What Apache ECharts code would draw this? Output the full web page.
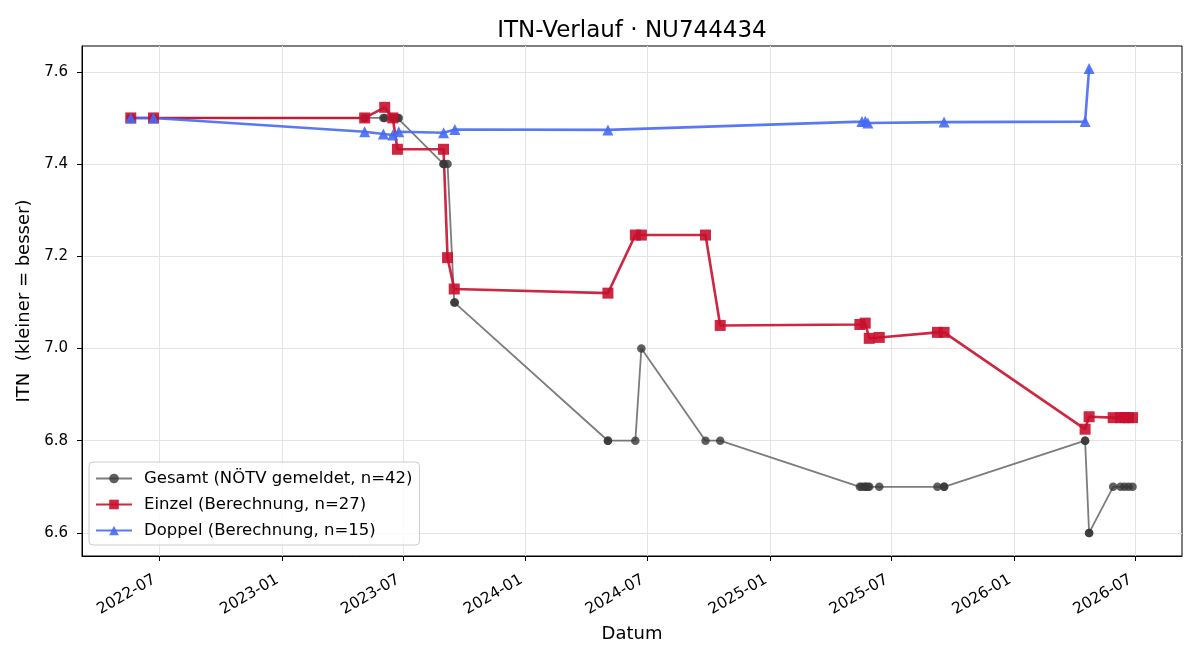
<!DOCTYPE html>
<html>
<head>
    <meta charset="utf-8">
    <title>ITN-Verlauf</title>
    <script src="https://cdn.jsdelivr.net/npm/echarts@6/dist/echarts.min.js"></script>
    <style type="text/css">
        body{ margin:0; background:#fff; }
        #main{ width:1200px; height:660px; }
    </style>
</head>
<body>
<div id="main"></div>
<script>
    // Einzel (Berechnung)
    var einzelDates = ['2022-05-20','2022-06-23','2023-05-05','2023-06-04','2023-06-16','2023-06-23','2023-08-31','2023-09-06','2023-09-16',
        '2024-05-03','2024-06-13','2024-06-22','2024-09-26','2024-10-18','2025-05-15','2025-05-23','2025-05-29','2025-06-13',
        '2025-09-08','2025-09-18','2026-04-17','2026-04-23','2026-05-29','2026-06-09','2026-06-15','2026-06-21','2026-06-27'];
    var einzelValues = [7.50, 7.50, 7.50, 7.523, 7.50, 7.432, 7.432, 7.197, 7.129,
        7.120, 7.246, 7.246, 7.246, 7.050, 7.052, 7.055, 7.022, 7.024,
        7.035, 7.035, 6.825, 6.852, 6.850, 6.850, 6.850, 6.850, 6.850];

    // Doppel (Berechnung)
    var doppelDates = ['2022-05-20','2022-06-23','2023-05-05','2023-06-02','2023-06-16','2023-06-25','2023-08-31','2023-09-17',
        '2024-05-03','2025-05-18','2025-05-23','2025-05-27','2025-09-18','2026-04-17','2026-04-23'];
    var doppelValues = [7.50, 7.50, 7.470, 7.465, 7.463, 7.470, 7.468, 7.475,
        7.474, 7.492, 7.493, 7.489, 7.491, 7.492, 7.607];

    // Gesamt (NÖTV gemeldet)
    var gesamtDates = ['2022-05-20','2022-05-20','2022-06-23','2022-06-23','2023-05-05','2023-05-05','2023-06-02','2023-06-04',
        '2023-06-16','2023-06-16','2023-06-23','2023-06-25','2023-08-31','2023-08-31','2023-09-06','2023-09-16','2023-09-17',
        '2024-05-03','2024-05-03','2024-06-13','2024-06-22','2024-09-26','2024-10-18',
        '2025-05-15','2025-05-18','2025-05-23','2025-05-23','2025-05-27','2025-05-29','2025-06-13','2025-09-08','2025-09-18','2025-09-18',
        '2026-04-17','2026-04-17','2026-04-23','2026-04-23','2026-05-29','2026-06-09','2026-06-15','2026-06-21','2026-06-27'];
    var gesamtValues = [7.5, 7.5, 7.5, 7.5, 7.5, 7.5, 7.5, 7.5,
        7.5, 7.5, 7.5, 7.5, 7.4, 7.4, 7.4, 7.1, 7.1,
        6.8, 6.8, 6.8, 7.0, 6.8, 6.8,
        6.7, 6.7, 6.7, 6.7, 6.7, 6.7, 6.7, 6.7, 6.7, 6.7,
        6.8, 6.8, 6.6, 6.6, 6.7, 6.7, 6.7, 6.7, 6.7];

    var xTicks = ['2022-07-01','2023-01-01','2023-07-01','2024-01-01','2024-07-01','2025-01-01','2025-07-01','2026-01-01','2026-07-01'];
    var yTicks = [6.6, 6.8, 7.0, 7.2, 7.4, 7.6];

    function ts(d) { return Date.UTC(+d.slice(0, 4), +d.slice(5, 7) - 1, +d.slice(8, 10)); }
    function pairs(dates, vals) {
        return dates.map(function (d, i) { return [ts(d), vals[i]]; });
    }
    var xTickVals = xTicks.map(ts);
    var font = 'DejaVu Sans';

    var myChart = echarts.init(document.getElementById('main'));
    var option = {
        animation: false,
        textStyle: { fontFamily: font },
        title: {
            text: 'ITN-Verlauf · NU744434',
            left: 627, top: 15, textAlign: 'center',
            textStyle: { fontFamily: font, fontSize: 23, fontWeight: 'normal', color: '#000' }
        },
        grid: {
            left: 82, right: 18, top: 46, bottom: 104,
            show: true, borderColor: '#000', borderWidth: 1, backgroundColor: '#fff'
        },
        legend: {
            orient: 'vertical',
            left: 89, top: 462,
            padding: [8, 7, 6, 6],
            itemGap: 9,
            itemWidth: 36, itemHeight: 12,
            backgroundColor: 'rgba(255,255,255,0.8)',
            borderColor: '#cccccc', borderWidth: 1, borderRadius: 4,
            textStyle: { fontFamily: font, fontSize: 16.5, color: '#000', padding: [0, 0, 0, 7] },
            data: ['Gesamt (NÖTV gemeldet, n=42)', 'Einzel (Berechnung, n=27)', 'Doppel (Berechnung, n=15)']
        },
        xAxis: {
            type: 'value',
            min: ts('2022-03-08'), max: ts('2026-09-09'),
            name: 'Datum', nameLocation: 'middle', nameGap: 69,
            nameTextStyle: { fontFamily: font, fontSize: 18, color: '#000' },
            axisLine: { show: true, onZero: false, lineStyle: { color: '#000', width: 1 } },
            axisTick: { show: true, length: 5, lineStyle: { color: '#000' }, customValues: xTickVals },
            axisLabel: {
                customValues: xTickVals,
                rotate: 30, margin: 20, padding: [0, 5, 0, 0],
                fontFamily: font, fontSize: 15.5, color: '#000',
                formatter: function (v) {
                    var d = new Date(v);
                    var m = d.getUTCMonth() + 1;
                    return d.getUTCFullYear() + '-' + (m < 10 ? '0' + m : m);
                }
            },
            splitLine: { show: true, lineStyle: { color: '#e3e3e3', width: 1 } }
        },
        yAxis: {
            type: 'value',
            min: 6.55, max: 7.656,
            name: 'ITN  (kleiner = besser)', nameLocation: 'middle', nameGap: 45,
            nameTextStyle: { fontFamily: font, fontSize: 18, color: '#000' },
            axisLine: { show: true, onZero: false, lineStyle: { color: '#000', width: 1 } },
            axisTick: { show: true, length: 5, lineStyle: { color: '#000' }, customValues: yTicks },
            axisLabel: {
                customValues: yTicks, margin: 14,
                fontFamily: font, fontSize: 15, color: '#000',
                formatter: function (v) { return v.toFixed(1); }
            },
            splitLine: { show: true, lineStyle: { color: '#e3e3e3', width: 1 } }
        },
        series: [
            {
                name: 'Gesamt (NÖTV gemeldet, n=42)',
                type: 'line',
                data: pairs(gesamtDates, gesamtValues),
                symbol: 'circle', symbolSize: 8.5,
                lineStyle: { color: 'rgba(80,80,80,0.75)', width: 1.8 },
                itemStyle: { color: 'rgba(55,55,55,0.8)', borderWidth: 0 }
            },
            {
                name: 'Einzel (Berechnung, n=27)',
                type: 'line',
                data: pairs(einzelDates, einzelValues),
                symbol: 'rect', symbolSize: 11,
                lineStyle: { color: 'rgba(200,16,46,0.9)', width: 2.6 },
                itemStyle: { color: 'rgba(200,16,46,0.9)', borderWidth: 0 }
            },
            {
                name: 'Doppel (Berechnung, n=15)',
                type: 'line',
                data: pairs(doppelDates, doppelValues),
                symbol: 'triangle', symbolSize: 11,
                lineStyle: { color: 'rgba(70,105,245,0.9)', width: 2.6 },
                itemStyle: { color: 'rgba(70,105,245,0.9)', borderWidth: 0 }
            }
        ]
    };
    myChart.setOption(option);
</script>
</body>
</html>
